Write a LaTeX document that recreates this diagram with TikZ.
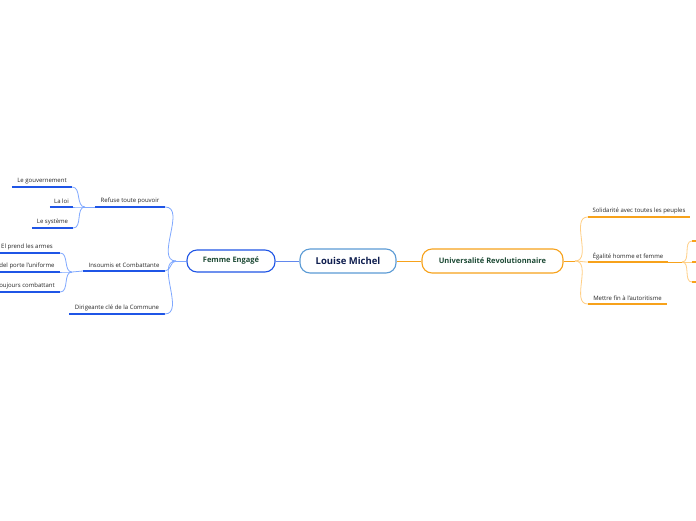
\documentclass[tikz,border=0pt]{standalone}
\usepackage{fontspec}
\setmainfont{Open Sans}
\usepackage{xcolor}
\definecolor{main-blue}{HTML}{1F55E6}
\definecolor{light-blue}{HTML}{7FA8FF}
\definecolor{sky-blue}{HTML}{5B9BD5}
\definecolor{main-orange}{HTML}{F7A21B}
\definecolor{light-orange}{HTML}{FFCF85}
\definecolor{navy}{HTML}{0F1E4F}
\definecolor{dark-green}{HTML}{1D4A35}

\begin{document}
\begin{tikzpicture}[x=1pt, y=-1pt,
      every node/.style={font=\fontsize{6}{7}\selectfont, text=black!85},
      topic/.style={draw, rounded corners=10pt, line width=1.1pt, fill=white,
        minimum height=22pt, inner sep=0pt},
      leaf/.style={anchor=south, minimum height=11pt, inner sep=1pt},
      lcurve/.style={draw=light-blue, line width=0.8pt},
      luline/.style={draw=main-blue, line width=1.6pt},
      rcurve/.style={draw=light-orange, line width=0.8pt},
      ruline/.style={draw=main-orange, line width=1.6pt}]
    \useasboundingbox[fill=white] (0,0) rectangle (696,520);
    \node[topic, draw=sky-blue, minimum width=96pt, minimum height=24pt,
          text=navy, font=\bfseries\fontsize{9.5}{11}\selectfont] (lm) at (348,261) {Louise Michel};
    \node[topic, draw=main-blue, minimum width=88pt, text=dark-green,
          font=\bfseries\fontsize{7.5}{9}\selectfont] (fe) at (231,261) {Femme Engagé};
    \node[topic, draw=main-orange, minimum width=141pt, minimum height=24pt, text=dark-green,
          font=\bfseries\fontsize{7.5}{9}\selectfont] (ur) at (492.5,261) {Universalité Revolutionnaire};
    \draw[draw=main-blue!70, line width=1pt] (lm.west) -- (fe.east);
    \draw[draw=main-orange, line width=1pt] (lm.east) -- (ur.west);

    \node[leaf, minimum width=70pt] (ref) at (130,207) {Refuse toute pouvoir};
    \node[leaf, minimum width=82pt] (ins) at (124,271) {Insoumis et Combattante};
    \node[leaf, minimum width=95pt] (dir) at (117,314) {Dirigeante clé de la Commune};
    \node[leaf, minimum width=60pt] (gou) at (42,187) {Le gouvernement};
    \node[leaf, minimum width=23pt] (loi) at (61.5,207) {La loi};
    \node[leaf, minimum width=41pt] (sys) at (52.5,228) {Le système};
    \node[leaf, minimum width=66pt] (arm) at (27,253) {El prend les armes};
    \node[leaf, minimum width=66pt] (uni) at (27,272) {del porte l'uniforme};
    \node[leaf, minimum width=66pt] (tou) at (27,292) {oujours combattant};
    \draw[luline] (ref.south west) -- (ref.south east);
    \draw[luline] (ins.south west) -- (ins.south east);
    \draw[luline] (dir.south west) -- (dir.south east);
    \draw[luline] (gou.south west) -- (gou.south east);
    \draw[luline] (loi.south west) -- (loi.south east);
    \draw[luline] (sys.south west) -- (sys.south east);
    \draw[luline] (arm.south west) -- (arm.south east);
    \draw[luline] (uni.south west) -- (uni.south east);
    \draw[luline] (tou.south west) -- (tou.south east);

    \coordinate (bl) at (176,261);
    \draw[lcurve] (fe.west) -- (bl);
    \draw[lcurve] (bl) to[out=180, in=0] (ref.south east);
    \draw[lcurve] (bl) to[out=180, in=0] (ins.south east);
    \draw[lcurve] (bl) to[out=180, in=0] (dir.south east);
    \coordinate (bref) at (85,207);
    \draw[lcurve] (ref.south west) -- (bref);
    \draw[lcurve] (bref) to[out=180, in=0] (gou.south east);
    \draw[lcurve] (bref) to[out=180, in=0] (loi.south east);
    \draw[lcurve] (bref) to[out=180, in=0] (sys.south east);
    \coordinate (bins) at (72,272);
    \draw[lcurve] (ins.south west) -- (bins);
    \draw[lcurve] (bins) to[out=180, in=0] (arm.south east);
    \draw[lcurve] (bins) to[out=180, in=0] (uni.south east);
    \draw[lcurve] (bins) to[out=180, in=0] (tou.south east);

    \node[leaf, minimum width=102pt] (sol) at (639,217) {Solidarité avec toutes les peuples};
    \node[leaf, minimum width=80pt] (ega) at (628,262) {Égalité homme et femme};
    \node[leaf, minimum width=79pt] (met) at (627.5,304) {Mettre fin à l'autoritisme};
    \draw[ruline] (sol.south west) -- (sol.south east);
    \draw[ruline] (ega.south west) -- (ega.south east);
    \draw[ruline] (met.south west) -- (met.south east);

    \coordinate (br) at (575,261);
    \draw[draw=main-orange, line width=0.8pt] (ur.east) -- (br);
    \draw[rcurve] (br) to[out=0, in=180] (sol.south west);
    \draw[rcurve] (br) to[out=0, in=180] (ega.south west);
    \draw[rcurve] (br) to[out=0, in=180] (met.south west);
    \coordinate (bega) at (682,262);
    \coordinate (e1) at (692,241);
    \coordinate (e2) at (692,262);
    \coordinate (e3) at (692,282);
    \draw[draw=main-orange, line width=0.8pt] (ega.south east) -- (bega);
    \draw[rcurve] (bega) to[out=0, in=180] (e1);
    \draw[rcurve] (bega) -- (e2);
    \draw[rcurve] (bega) to[out=0, in=180] (e3);
    \draw[ruline] (e1) -- ++(8,0);
    \draw[ruline] (e2) -- ++(8,0);
    \draw[ruline] (e3) -- ++(8,0);
  \end{tikzpicture}
\end{document}
